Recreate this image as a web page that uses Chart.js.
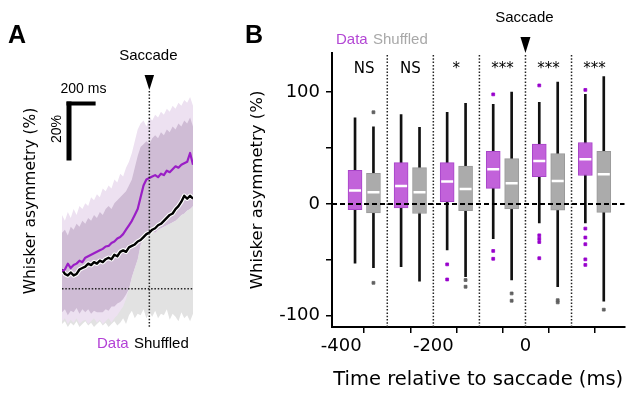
<!DOCTYPE html>
<html>
<head>
<meta charset="utf-8">
<script src="https://cdn.jsdelivr.net/npm/chart.js@4"></script>
<style>
  body { margin: 0; background: #fff; }
  #wrap { position: relative; width: 633px; height: 394px; overflow: hidden; }
  canvas { position: absolute; top: 0; }
  #chartA { left: 0; }
  #chartB { left: 230px; }
</style>
</head>
<body>
<div id="wrap">
  <canvas id="chartA" width="230" height="394"></canvas>
  <canvas id="chartB" width="403" height="394"></canvas>
</div>
<script>
"use strict";

// ---------- Panel A : time course (ms relative to saccade, % asymmetry) ----------
var timeA = [-600, -580, -560, -540, -520, -500, -480, -460, -440, -420, -400, -380, -360, -340, -320, -300,
    -280, -260, -240, -220, -200, -180, -160, -140, -120, -100, -80, -60, -40, -20, 0, 20, 40, 60, 80, 100,
    120, 140, 160, 180, 200, 220, 240, 260, 280, 300];
var dataMean = [6, 6.5, 8.5, 7, 8, 8.5, 9.5, 9, 10.5, 11, 11.5, 12, 12.5, 13, 13.5, 14.3, 14.5, 15.5, 16, 17,
    17.5, 18.5, 20, 21.5, 23, 25, 27, 31, 35, 37, 37.5, 38, 38.5, 37.8, 39, 38.5, 40, 39.5, 40.5, 41.5, 41, 42,
    42.5, 43, 46, 42];
var shufMean = [6.5, 5, 4.5, 5.5, 4.5, 5, 6.5, 7, 7.5, 8.5, 8, 9, 8.5, 9.5, 9, 10, 10.5, 10, 11.5, 11, 12.5, 13,
    12.5, 14, 14.5, 15, 16, 16.5, 17.5, 18.5, 19, 20, 20.5, 21.5, 22, 23, 24, 25, 25.5, 27, 28, 29.5, 31.5,
    30.5, 31.5, 30.5];
var dataOuterHi = [25, 23, 26, 24, 27, 25, 28, 27, 29, 28, 31, 30, 32, 31, 34, 33, 35, 34, 37, 36, 39, 38, 41,
    43, 46, 50, 54, 56, 57, 55, 58, 57, 59, 58, 60, 59, 61, 60, 62, 61, 63, 62, 64, 63, 65, 62];
var dataInnerHi = [19, 20, 18, 21, 20, 22, 21, 23, 22, 24, 23, 25, 24, 26, 25, 27, 28, 27, 29, 30, 31, 32, 33,
    35, 37, 41, 45, 48, 49, 50, 49, 51, 52, 51, 53, 52, 54, 53, 55, 54, 56, 55, 57, 56, 58, 55];
var dataInnerLo = [-8, -7, -9, -7.5, -8, -6.5, -8.5, -7, -8, -7, -8.5, -7.5, -8, -8, -8, -7, -7.5, -6, -6, -5,
    -4.5, -3.5, -2, 0, 4, 7, 10, 15, 17, 18, 18.5, 19.5, 19, 20, 20.5, 21, 21.5, 22, 22.5, 23, 24, 25, 25.5,
    26.5, 27, 28];
var dataOuterLo = [-11, -10, -12, -10.5, -11.5, -10, -12, -11, -10.5, -12, -11, -10, -11.5, -10.5, -12, -11,
    -10, -11.5, -10, -9, -7.5, -6, -3.5, 0, 4, 7, 10, 15, 17, 18, 18.5, 19.5, 19, 20, 20.5, 21, 21.5, 22, 22.5,
    23, 24, 25, 25.5, 26.5, 27, 28];
var shufLo = [-12, -11, -13, -11.5, -12.5, -11, -13, -12, -11, -12.5, -11.5, -13, -12, -11, -12.5, -11.5, -13,
    -12, -11, -12.5, -11.5, -10, -12, -9, -7.5, -10, -8.5, -9, -7, -10, -8, -9.5, -7.5, -10, -8.5, -9, -7,
    -10.5, -8.5, -9.5, -11, -8, -10, -9, -11, -8.5];

// ---------- Panel B : box plots per 100 ms bin ----------
var binCenters = [-350, -250, -150, -50, 50, 150];
var sigLabels = ["NS", "NS", "*", "***", "***", "***"];

var dataQ1 = [-5, -3.5, 2, 14, 24.5, 25.5];
var dataMedian = [12, 16, 20, 31, 38.5, 40];
var dataQ3 = [30, 37, 37, 47, 53.5, 55];
var dataWhiskLo = [-53, -56, -41, -31, -17, -17];
var dataWhiskHi = [77, 80, 82, 89, 91, 98];
var dataOutliers = [[], [], [-54, -67.5], [98, -42, -49], [106, -28, -31, -34, -48.5], [102, -22, -30, -36, -49.5, -54.5]];

var shufQ1 = [-8, -8.5, -6, -4.5, -5.5, -7.5];
var shufMedian = [10.5, 10.5, 13.5, 18.5, 20.5, 26.5];
var shufQ3 = [27.5, 32.5, 34, 40.5, 45, 47];
var shufWhiskLo = [-57, -69, -65, -68, -74, -87];
var shufWhiskHi = [69, 68.5, 90, 100, 109, 114];
var shufOutliers = [[82, -70.5], [], [-68, -74], [-80, -86.5], [-86, -88], [-94.5]];

var xTickValues = [-400, -300, -200, -100, 0, 100];
var xTickLabeled = [-400, -200, 0];
var yTickValues = [-100, -50, 0, 50, 100];
var yTickLabeled = [-100, 0, 100];
var dividers = [-300, -200, -100, 0, 100];

// Colors
var purpleLine = "#9a1ec6";
var purpleBox = "#c262da";
var purpleEdge = "#a844c9";
var purpleDot = "#9800cc";
var grayBox = "#ababab";
var grayEdge = "#9a9a9a";
var grayDot = "#606060";

Chart.defaults.font.family = "'DejaVu Sans', sans-serif";
Chart.defaults.color = "#000";

var helv = "'Liberation Sans', Arial, sans-serif";

function series(vals) {
    return vals.map(function (v, i) { return { x: timeA[i], y: v }; });
}

function triangle(ctx, x, tipY, h, w) {
    ctx.beginPath();
    ctx.moveTo(x - w / 2, tipY - h);
    ctx.lineTo(x + w / 2, tipY - h);
    ctx.lineTo(x, tipY);
    ctx.closePath();
    ctx.fill();
}

// Annotations for panel A
var panelA = {
    id: "panelA",
    afterDatasetsDraw: function (chart) {
        var ctx = chart.ctx, xs = chart.scales.x, ys = chart.scales.y, area = chart.chartArea;
        var x0 = xs.getPixelForValue(0), y0 = ys.getPixelForValue(0);
        ctx.save();

        // dotted reference lines
        ctx.strokeStyle = "#222";
        ctx.lineWidth = 1.5;
        ctx.setLineDash([1.5, 1.8]);
        ctx.beginPath();
        ctx.moveTo(area.left, y0);
        ctx.lineTo(area.right, y0);
        ctx.stroke();
        ctx.beginPath();
        ctx.moveTo(x0, 91);
        ctx.lineTo(x0, ys.getPixelForValue(-13.4));
        ctx.stroke();
        ctx.setLineDash([]);

        // saccade marker
        ctx.fillStyle = "#000";
        triangle(ctx, x0, 90, 15, 9.5);
        ctx.font = "15px " + helv;
        ctx.textAlign = "center";
        ctx.fillText("Saccade", x0 - 1, 60);

        // scale bar: 200 ms / 20 %
        var barW = xs.getPixelForValue(200) - xs.getPixelForValue(0);
        var barH = ys.getPixelForValue(0) - ys.getPixelForValue(20);
        ctx.fillRect(66.5, 101.5, barW, 4);
        ctx.fillRect(66.5, 101.5, 5, barH);
        ctx.font = "14px " + helv;
        ctx.fillText("200 ms", 83.5, 93);
        ctx.save();
        ctx.translate(61, 129);
        ctx.rotate(-Math.PI / 2);
        ctx.fillText("20%", 0, 0);
        ctx.restore();

        // y title
        ctx.save();
        ctx.translate(35, 201);
        ctx.rotate(-Math.PI / 2);
        ctx.font = "15.5px 'DejaVu Sans'";
        ctx.fillText("Whisker asymmetry (%)", 0, 0);
        ctx.restore();

        // legend
        ctx.textAlign = "left";
        ctx.font = "15px " + helv;
        ctx.fillStyle = "#b341d6";
        ctx.fillText("Data", 97, 348);
        ctx.fillStyle = "#000";
        ctx.fillText("Shuffled", 134, 348);

        // panel letter
        ctx.font = "bold 25px " + helv;
        ctx.fillText("A", 8, 43);
        ctx.restore();
    }
};

new Chart(document.getElementById("chartA"), {
    type: "line",
    data: {
        datasets: [
            { data: series(dataMean), borderColor: purpleLine, borderWidth: 2.2 },
            { data: series(shufMean), borderColor: "#000", borderWidth: 2.4 },
            { data: series(shufMean), borderColor: "#fff", borderWidth: 4.5 },
            { data: series(dataInnerHi), borderWidth: 0, backgroundColor: "#cfbcd5", fill: 4 },
            { data: series(dataInnerLo), borderWidth: 0 },
            { data: series(dataOuterHi), borderWidth: 0, backgroundColor: "#ede1f1", fill: 6 },
            { data: series(dataOuterLo), borderWidth: 0 },
            { data: series(dataInnerLo), borderWidth: 0, backgroundColor: "#e2e2e2", fill: 8 },
            { data: series(shufLo), borderWidth: 0 }
        ]
    },
    options: {
        responsive: false,
        animation: false,
        layout: { padding: { left: 62, right: 37, top: 94, bottom: 64 } },
        elements: { point: { radius: 0 }, line: { tension: 0, borderJoinStyle: "round" } },
        scales: {
            x: { type: "linear", display: false, min: -600, max: 300 },
            y: { display: false, min: -14, max: 66 }
        },
        plugins: { legend: { display: false }, tooltip: { enabled: false } }
    },
    plugins: [panelA]
});

// Annotations for panel B
var panelB = {
    id: "panelB",
    afterDatasetsDraw: function (chart) {
        var ctx = chart.ctx, xs = chart.scales.x, ys = chart.scales.y, area = chart.chartArea;
        ctx.save();

        // bin dividers
        ctx.strokeStyle = "#222";
        ctx.lineWidth = 1.5;
        ctx.setLineDash([1.5, 1.8]);
        dividers.forEach(function (d) {
            var px = xs.getPixelForValue(d);
            ctx.beginPath();
            ctx.moveTo(px, area.top + 2);
            ctx.lineTo(px, area.bottom);
            ctx.stroke();
        });

        // zero line
        var y0 = ys.getPixelForValue(0);
        ctx.strokeStyle = "#000";
        ctx.lineWidth = 2;
        ctx.setLineDash([5, 3]);
        ctx.beginPath();
        ctx.moveTo(area.left, y0);
        ctx.lineTo(area.right, y0);
        ctx.stroke();
        ctx.setLineDash([]);

        // significance
        ctx.fillStyle = "#000";
        ctx.textAlign = "center";
        ctx.font = "15px 'DejaVu Sans'";
        binCenters.forEach(function (c, i) {
            ctx.fillText(sigLabels[i], xs.getPixelForValue(c), 73);
        });

        // saccade marker
        var x0 = xs.getPixelForValue(0);
        triangle(ctx, x0, area.top, 16, 10);
        ctx.font = "15px " + helv;
        ctx.fillText("Saccade", x0 - 1, 21.5);

        // legend
        ctx.textAlign = "left";
        ctx.fillStyle = "#b347d4";
        ctx.fillText("Data", 106, 44);
        ctx.fillStyle = "#a8a8a8";
        ctx.fillText("Shuffled", 143, 44);

        // panel letter
        ctx.fillStyle = "#000";
        ctx.font = "bold 25px " + helv;
        ctx.fillText("B", 15, 43);
        ctx.restore();
    }
};

function boxes(lo, hi, offset) {
    return binCenters.map(function (c, i) { return { x: c + offset, y: [lo[i], hi[i]] }; });
}

function points(vals, offset) {
    return binCenters.map(function (c, i) { return { x: c + offset, y: vals[i] }; });
}

function outlierPoints(lists, offset) {
    var out = [];
    lists.forEach(function (list, i) {
        list.forEach(function (v) { out.push({ x: binCenters[i] + offset, y: v }); });
    });
    return out;
}

new Chart(document.getElementById("chartB"), {
    type: "bar",
    data: {
        datasets: [
            { type: "scatter", data: points(dataMedian, -20), pointStyle: "line", pointRadius: 6,
              pointBorderColor: "#fff", pointBorderWidth: 2.5 },
            { type: "scatter", data: points(shufMedian, 20), pointStyle: "line", pointRadius: 6,
              pointBorderColor: "#fff", pointBorderWidth: 2.5 },
            { type: "scatter", data: outlierPoints(dataOutliers, -20), pointStyle: "rect", pointRadius: 2,
              pointBackgroundColor: purpleDot, pointBorderColor: purpleDot, pointBorderWidth: 0.8 },
            { type: "scatter", data: outlierPoints(shufOutliers, 20), pointStyle: "rect", pointRadius: 2,
              pointBackgroundColor: grayDot, pointBorderColor: grayDot, pointBorderWidth: 0.8 },
            { data: boxes(dataQ1, dataQ3, -20), backgroundColor: purpleBox, borderColor: purpleEdge,
              borderWidth: 1, borderSkipped: false, barThickness: 14, grouped: false },
            { data: boxes(shufQ1, shufQ3, 20), backgroundColor: grayBox, borderColor: grayEdge,
              borderWidth: 1, borderSkipped: false, barThickness: 14, grouped: false },
            { data: boxes(dataWhiskLo, dataWhiskHi, -20), backgroundColor: "#111", borderWidth: 0,
              barThickness: 2, grouped: false },
            { data: boxes(shufWhiskLo, shufWhiskHi, 20), backgroundColor: "#111", borderWidth: 0,
              barThickness: 2, grouped: false }
        ]
    },
    options: {
        responsive: false,
        animation: false,
        layout: { padding: { left: 0, right: 0, top: 53, bottom: 0 } },
        scales: {
            x: {
                type: "linear", min: -420, max: 215, offset: false,
                afterFit: function (s) { s.height = 67; },
                afterBuildTicks: function (s) { s.ticks = xTickValues.map(function (v) { return { value: v }; }); },
                ticks: {
                    font: { size: 18 }, color: "#000", padding: 3, maxRotation: 0, autoSkip: false,
                    callback: function (v) { return xTickLabeled.indexOf(v) >= 0 ? String(v) : ""; }
                },
                grid: { drawOnChartArea: false, drawTicks: true, tickLength: 6, color: "#000", lineWidth: 1.5 },
                border: { display: true, color: "#000", width: 2 },
                title: { display: true, text: "Time relative to saccade (ms)", font: { size: 19.5 },
                         color: "#000", padding: { top: 0, bottom: 2 } }
            },
            y: {
                min: -110, max: 135,
                afterFit: function (s) { s.width = 102; },
                afterBuildTicks: function (s) { s.ticks = yTickValues.map(function (v) { return { value: v }; }); },
                ticks: {
                    font: { size: 18 }, color: "#000", padding: 6,
                    callback: function (v) { return yTickLabeled.indexOf(v) >= 0 ? String(v) : ""; }
                },
                grid: { drawOnChartArea: false, drawTicks: true, tickLength: 6, color: "#000", lineWidth: 1.5 },
                border: { display: true, color: "#000", width: 2 },
                title: { display: true, text: "Whisker asymmetry (%)", font: { size: 16.5 },
                         color: "#000", padding: { top: 18, bottom: 0 } }
            }
        },
        plugins: { legend: { display: false }, tooltip: { enabled: false } }
    },
    plugins: [panelB]
});
</script>
</body>
</html>
